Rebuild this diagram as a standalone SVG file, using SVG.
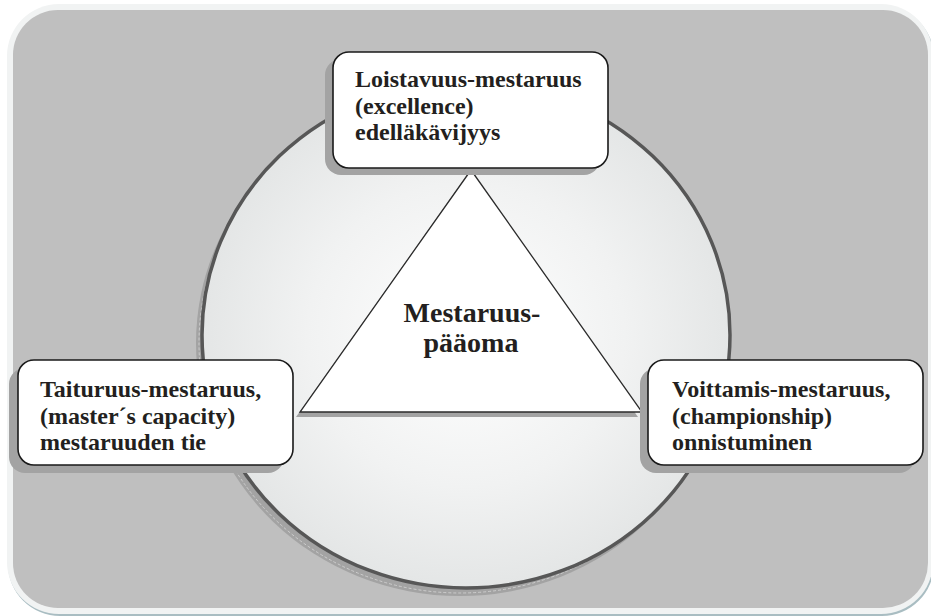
<svg xmlns="http://www.w3.org/2000/svg" width="931" height="616" viewBox="0 0 931 616">
  <defs>
    <radialGradient id="circFill" cx="0.5" cy="0.5" r="0.5">
      <stop offset="0" stop-color="#ffffff"/>
      <stop offset="0.6" stop-color="#f1f2f2"/>
      <stop offset="1" stop-color="#e4e6e6"/>
    </radialGradient>
    <style>
      .shadow { fill: #a3a3a3; }
      .box { fill: #ffffff; stroke: #1a1a1a; stroke-width: 1.6; }
      .label { font-family: "Liberation Serif", "Times New Roman", serif; font-weight: bold; font-size: 24px; fill: #231f20; }
      .center { font-family: "Liberation Serif", "Times New Roman", serif; font-weight: bold; font-size: 28px; fill: #231f20; text-anchor: middle; }
    </style>
  </defs>

  <g id="background">
    <rect x="8" y="6" width="926" height="610" rx="52" fill="#a9bdc2"/>
    <rect x="7" y="4" width="926" height="610" rx="52" fill="#f1f3f3"/>
    <rect x="13" y="10" width="915" height="598" rx="45" fill="#bfbfbf"/>
  </g>

  <g id="circle">
    <ellipse cx="460" cy="343" rx="264" ry="253" fill="#a3a3a3"/>
    <ellipse cx="460" cy="343" rx="261" ry="250" fill="none" stroke="#d6d6d6" stroke-width="0.8" stroke-dasharray="3 2"/>
    <ellipse cx="466" cy="335" rx="264" ry="253" fill="url(#circFill)" stroke="#575757" stroke-width="3.5"/>
  </g>

  <g id="connectors"/>

  <g id="triangle">
    <polygon points="467,175 296,417 638,417" class="shadow"/>
    <polygon points="471,170 300,412 642,412" fill="#ffffff" stroke="#2b2b2b" stroke-width="1.3" stroke-linejoin="miter"/>
    <text class="center" x="472" y="322">Mestaruus-</text>
    <text class="center" x="471" y="352">pääoma</text>
  </g>

  <g id="node-top">
    <rect x="325" y="59" width="275" height="116" rx="16" class="shadow"/>
    <rect x="333" y="52" width="275" height="116" rx="16" class="box"/>
    <text class="label" x="355" y="87">Loistavuus-mestaruus</text>
    <text class="label" x="355" y="113.5">(excellence)</text>
    <text class="label" x="355" y="140">edelläkävijyys</text>
  </g>

  <g id="node-left">
    <rect x="9" y="368" width="275" height="105" rx="16" class="shadow"/>
    <rect x="18" y="360" width="275" height="105" rx="16" class="box"/>
    <text class="label" x="40" y="397">Taituruus-mestaruus,</text>
    <text class="label" x="40" y="423.5">(master´s capacity)</text>
    <text class="label" x="40" y="450">mestaruuden tie</text>
  </g>

  <g id="node-right">
    <rect x="640" y="368" width="275" height="105" rx="16" class="shadow"/>
    <rect x="648" y="360" width="275" height="105" rx="16" class="box"/>
    <text class="label" x="672" y="397">Voittamis-mestaruus,</text>
    <text class="label" x="672" y="423.5">(championship)</text>
    <text class="label" x="672" y="450">onnistuminen</text>
  </g>
</svg>
